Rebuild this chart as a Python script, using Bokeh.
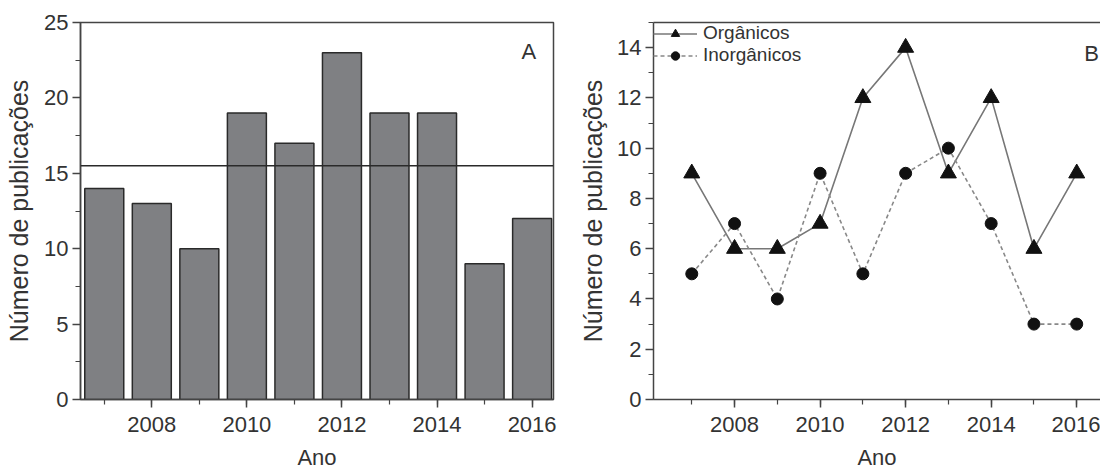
from bokeh.plotting import figure
from bokeh.layouts import row
from bokeh.models import (Span, Label, SingleIntervalTicker, LinearAxis, FixedTicker,
                          Range1d, ColumnDataSource)
from bokeh.embed import file_html
from bokeh.resources import INLINE

# ---- data ----
years = [2007, 2008, 2009, 2010, 2011, 2012, 2013, 2014, 2015, 2016]
total_pubs = [14, 13, 10, 19, 17, 23, 19, 19, 9, 12]
mean_line = 15.5
organicos = [9, 6, 6, 7, 12, 14, 9, 12, 6, 9]
inorganicos = [5, 7, 4, 9, 5, 9, 10, 7, 3, 3]

FONT = "Liberation Sans"
TXT = "#333333"
AX = "#444444"


def style_axes(p, xint, yint, ylab_standoff):
    xa = p.below[0]
    ya = p.left[0]
    for ax in (xa, ya):
        ax.axis_line_color = AX
        ax.axis_line_width = 1.5
        ax.major_tick_line_color = AX
        ax.minor_tick_line_color = AX
        ax.major_tick_line_width = 1.5
        ax.minor_tick_line_width = 1.2
        ax.major_tick_out = 8
        ax.major_tick_in = 0
        ax.minor_tick_out = 5
        ax.minor_tick_in = 0
        ax.major_label_text_font = FONT
        ax.major_label_text_font_size = "22px"
        ax.major_label_text_color = TXT
        ax.axis_label_text_font = FONT
        ax.axis_label_text_font_style = "normal"
        ax.axis_label_text_color = TXT
    xa.major_label_standoff = 9
    ya.major_label_standoff = 4
    xa.axis_label_text_font_size = "22px"
    ya.axis_label_text_font_size = "25px"
    xa.ticker = SingleIntervalTicker(interval=xint, num_minor_ticks=2)
    ya.ticker = SingleIntervalTicker(interval=yint, num_minor_ticks=2)
    xa.axis_label = "Ano"
    ya.axis_label = "Número de publicações"
    xa.axis_label_standoff = 10
    ya.axis_label_standoff = ylab_standoff
    p.xgrid.visible = False
    p.ygrid.visible = False


# ---- Panel A ----
pa = figure(width=568, height=472, output_backend="svg", toolbar_location=None,
            x_range=Range1d(2006.5, 2016.45), y_range=Range1d(0, 25),
            min_border_left=80, min_border_right=15, min_border_top=22,
            min_border_bottom=72)
pa.outline_line_color = AX
pa.outline_line_width = 1.5
pa.background_fill_color = "white"
src_a = ColumnDataSource(dict(x=years, top=total_pubs))
pa.vbar(x="x", top="top", width=0.82, bottom=0, source=src_a,
        fill_color="#7f8083", line_color="#2a2a2a", line_width=1.5)
pa.add_layout(Span(location=mean_line, dimension="width", line_color="#2a2a2a",
                   line_width=1.5))
style_axes(pa, 2, 5, 8)
pa.add_layout(Label(x=2015.93, y=23.1, text="A", text_font=FONT, text_font_size="22px",
                    text_color=TXT, text_align="center", text_baseline="middle"))

# ---- Panel B ----
pb = figure(width=532, height=472, output_backend="svg", toolbar_location=None,
            x_range=Range1d(2006.105, 2016.556), y_range=Range1d(0, 15),
            min_border_left=85, min_border_right=0, min_border_top=16,
            min_border_bottom=72)
pb.outline_line_color = None
style_axes(pb, 2, 2, 7)

top_ax = LinearAxis(ticker=FixedTicker(ticks=[]), axis_line_color=AX, axis_line_width=1.5,
                    major_tick_line_color=None, minor_tick_line_color=None,
                    major_label_text_font_size="0px", axis_label=None)
pb.add_layout(top_ax, "above")

src_b = ColumnDataSource(dict(x=years, org=organicos, inorg=inorganicos))
pb.line("x", "org", source=src_b, line_color="#777777", line_width=1.6,
        legend_label="Orgânicos")
pb.scatter("x", "org", source=src_b, marker="triangle", size=16, fill_color="#111111",
           line_color="#111111", legend_label="Orgânicos")
pb.line("x", "inorg", source=src_b, line_color="#888888", line_width=1.6,
        line_dash="4 3", legend_label="Inorgânicos")
pb.scatter("x", "inorg", source=src_b, marker="circle", size=12, fill_color="#111111",
           line_color="#111111", legend_label="Inorgânicos")
pb.add_layout(Label(x=2016.35, y=13.76, text="B", text_font=FONT, text_font_size="22px",
                    text_color=TXT, text_align="center", text_baseline="middle"))

lg = pb.legend[0]
lg.location = "top_left"
lg.margin = 0
lg.padding = 5
lg.spacing = 0
lg.glyph_width = 44
lg.glyph_height = 21
lg.label_height = 21
lg.label_standoff = 6
lg.label_text_font = FONT
lg.label_text_font_size = "19px"
lg.label_text_color = TXT
lg.border_line_color = None
lg.background_fill_alpha = 0

layout = row(pa, pb)
open("out.html", "w").write(file_html(layout, INLINE))
